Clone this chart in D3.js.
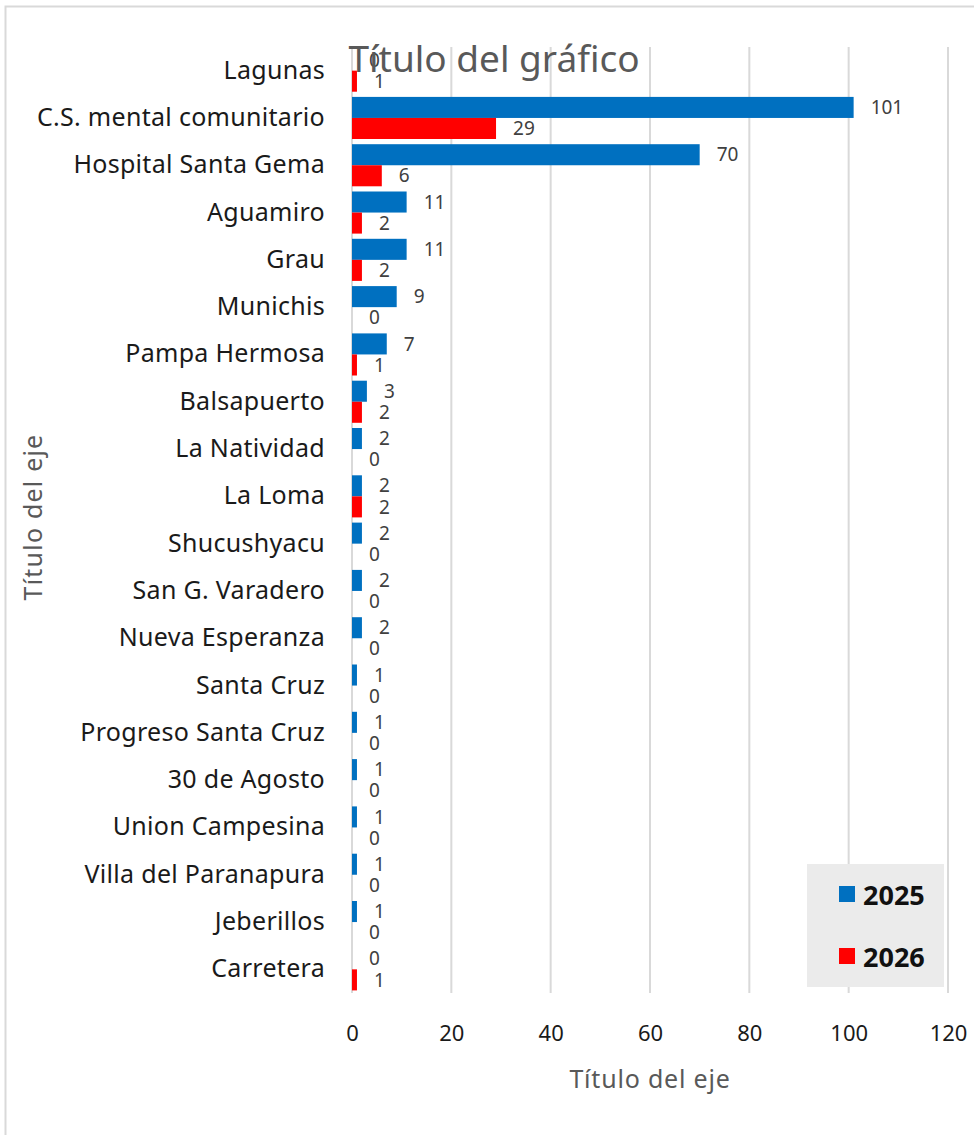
<!DOCTYPE html>
<html>
<head>
<meta charset="utf-8">
<script src="https://cdn.jsdelivr.net/npm/d3@7"></script>
<style>
  body { margin: 0; background: #fff; }
  text { font-family: "Noto Sans", "Open Sans", sans-serif; }
</style>
</head>
<body>
<script>
// Chart data
var categories = ["Lagunas", "C.S. mental comunitario", "Hospital Santa Gema", "Aguamiro", "Grau",
  "Munichis", "Pampa Hermosa", "Balsapuerto", "La Natividad", "La Loma", "Shucushyacu",
  "San G. Varadero", "Nueva Esperanza", "Santa Cruz", "Progreso Santa Cruz", "30 de Agosto",
  "Union Campesina", "Villa del Paranapura", "Jeberillos", "Carretera"];
var values2025 = [0, 101, 70, 11, 11, 9, 7, 3, 2, 2, 2, 2, 2, 1, 1, 1, 1, 1, 1, 0];
var values2026 = [1, 29, 6, 2, 2, 0, 1, 2, 0, 2, 0, 0, 0, 0, 0, 0, 0, 0, 0, 1];
var seriesNames = ["2025", "2026"];
var seriesColors = ["#0070c0", "#ff0000"];
var xTicks = [0, 20, 40, 60, 80, 100, 120];

// SVG area
var svgWidth = 974;
var svgHeight = 1135;

var plot = { left: 352, right: 948, top: 47, bottom: 993 };

var svg = d3.select("body")
  .append("svg")
  .attr("width", svgWidth)
  .attr("height", svgHeight);

// outer chart border
svg.append("rect")
  .attr("x", 5.5)
  .attr("y", 6.5)
  .attr("width", 1000)
  .attr("height", 1200)
  .attr("fill", "#fff")
  .attr("stroke", "#d9d9d9")
  .attr("stroke-width", 2);

// Scales
var xScale = d3.scaleLinear()
  .domain([0, 120])
  .range([plot.left, plot.right]);

var yScale = d3.scaleBand()
  .domain(categories)
  .range([plot.top, plot.bottom])
  .paddingInner(0.11)
  .paddingOuter(0.055);

var subScale = d3.scaleBand()
  .domain(seriesNames)
  .range([0, yScale.bandwidth()]);

// Gridlines
svg.append("g")
  .selectAll("line")
  .data(xTicks)
  .enter()
  .append("line")
  .attr("x1", d => xScale(d))
  .attr("x2", d => xScale(d))
  .attr("y1", plot.top)
  .attr("y2", plot.bottom)
  .attr("stroke", "#d9d9d9")
  .attr("stroke-width", 2);

// X axis tick labels
var xAxis = d3.axisBottom(xScale).tickValues(xTicks).tickSize(0).tickPadding(0);
var xAxisGroup = svg.append("g")
  .attr("transform", `translate(0, 1041)`)
  .call(xAxis);
xAxisGroup.select(".domain").remove();
xAxisGroup.selectAll("text")
  .attr("dy", 0)
  .attr("font-size", 22)
  .attr("font-family", "'Noto Sans', sans-serif")
  .attr("fill", "#1a1a1a");

// Y axis category labels
var yAxis = d3.axisLeft(yScale).tickSize(0).tickPadding(27);
var yAxisGroup = svg.append("g")
  .attr("transform", `translate(${plot.left}, 0)`)
  .call(yAxis);
yAxisGroup.select(".domain").remove();
yAxisGroup.selectAll("text")
  .attr("font-size", 25)
  .attr("letter-spacing", "0.3px")
  .attr("font-family", "'Noto Sans', sans-serif")
  .attr("fill", "#1a1a1a");

// Build rows of data for bars
var rows = categories.map(function(c, i) {
  return { category: c, values: [values2025[i], values2026[i]] };
});

var groups = svg.selectAll(".row")
  .data(rows)
  .enter()
  .append("g")
  .attr("class", "row")
  .attr("transform", d => `translate(0, ${yScale(d.category)})`);

groups.selectAll("rect")
  .data(d => d.values.map((v, k) => ({ series: seriesNames[k], value: v, color: seriesColors[k] })))
  .enter()
  .append("rect")
  .attr("x", xScale(0))
  .attr("y", d => subScale(d.series))
  .attr("width", d => xScale(d.value) - xScale(0))
  .attr("height", subScale.bandwidth())
  .attr("fill", d => d.color);

// Data labels
groups.selectAll("text")
  .data(d => d.values.map((v, k) => ({ series: seriesNames[k], value: v })))
  .enter()
  .append("text")
  .attr("x", d => xScale(d.value) + 17)
  .attr("y", d => subScale(d.series) + subScale.bandwidth() / 2)
  .attr("dy", "0.35em")
  .attr("font-size", 19)
  .attr("fill", "#404040")
  .text(d => d.value);

// Legend
var legend = svg.append("g");
legend.append("rect")
  .attr("x", 807)
  .attr("y", 864)
  .attr("width", 137)
  .attr("height", 123)
  .attr("fill", "#ebebeb");

seriesNames.forEach(function(name, i) {
  legend.append("rect")
    .attr("x", 839)
    .attr("y", 886 + i * 62)
    .attr("width", 16)
    .attr("height", 16)
    .attr("fill", seriesColors[i]);
  legend.append("text")
    .attr("x", 863)
    .attr("y", 905 + i * 62)
    .attr("font-size", 27)
    .attr("font-weight", "bold")
    .attr("fill", "#111")
    .text(name);
});

// Axis titles
svg.append("text")
  .attr("x", (plot.left + plot.right) / 2)
  .attr("y", 1088)
  .attr("text-anchor", "middle")
  .attr("font-size", 25)
  .attr("letter-spacing", "0.8px")
  .attr("fill", "#595959")
  .text("Título del eje");

svg.append("text")
  .attr("transform", "translate(42, 517) rotate(-90)")
  .attr("text-anchor", "middle")
  .attr("font-size", 25)
  .attr("letter-spacing", "1.2px")
  .attr("fill", "#595959")
  .text("Título del eje");

// Chart title (drawn last, overlaps the plot like the original)
svg.append("text")
  .attr("x", 494)
  .attr("y", 72)
  .attr("text-anchor", "middle")
  .attr("font-size", 37)
  .attr("fill", "#595959")
  .text("Título del gráfico");
</script>
</body>
</html>
